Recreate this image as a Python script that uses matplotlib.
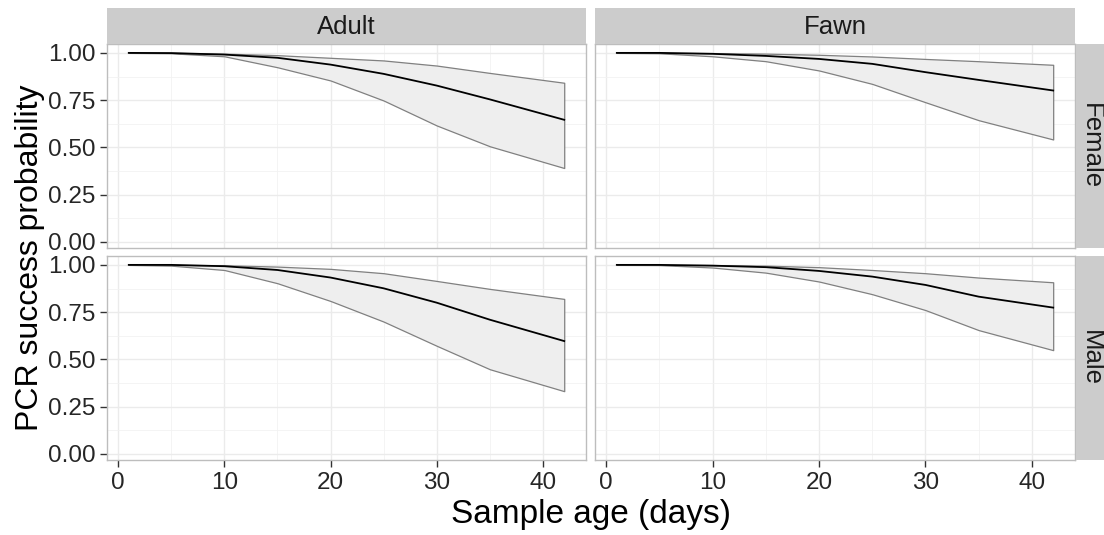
import matplotlib
matplotlib.use("Agg")
import matplotlib.pyplot as plt
from matplotlib.ticker import MultipleLocator

plt.rcParams["font.family"] = ["Liberation Sans", "DejaVu Sans"]

# sample age in days, and fitted PCR success (mean with lower/upper bounds)
days = [1, 5, 10, 15, 20, 25, 30, 35, 42]
age_classes = ["Adult", "Fawn"]
sexes = ["Female", "Male"]

adult_female_mean = [1.0, 0.999, 0.991, 0.974, 0.938, 0.889, 0.827, 0.754, 0.646]
adult_female_lo = [1.0, 0.998, 0.982, 0.924, 0.854, 0.748, 0.616, 0.506, 0.391]
adult_female_hi = [1.0, 1.0, 0.996, 0.988, 0.974, 0.960, 0.933, 0.894, 0.842]

adult_male_mean = [1.0, 1.0, 0.993, 0.973, 0.933, 0.876, 0.800, 0.710, 0.597]
adult_male_lo = [1.0, 0.996, 0.973, 0.903, 0.809, 0.700, 0.572, 0.448, 0.332]
adult_male_hi = [1.0, 1.0, 0.998, 0.991, 0.979, 0.956, 0.915, 0.873, 0.820]

fawn_female_mean = [1.0, 1.0, 0.995, 0.984, 0.968, 0.942, 0.898, 0.857, 0.801]
fawn_female_lo = [1.0, 0.998, 0.982, 0.956, 0.907, 0.836, 0.739, 0.644, 0.542]
fawn_female_hi = [1.0, 1.0, 0.999, 0.996, 0.990, 0.981, 0.968, 0.956, 0.937]

fawn_male_mean = [1.0, 1.0, 0.996, 0.988, 0.968, 0.938, 0.894, 0.832, 0.774]
fawn_male_lo = [1.0, 0.999, 0.986, 0.959, 0.912, 0.845, 0.761, 0.655, 0.549]
fawn_male_hi = [1.0, 1.0, 0.999, 0.996, 0.988, 0.973, 0.956, 0.933, 0.908]

curves = {
    ("Adult", "Female"): (adult_female_mean, adult_female_lo, adult_female_hi),
    ("Adult", "Male"): (adult_male_mean, adult_male_lo, adult_male_hi),
    ("Fawn", "Female"): (fawn_female_mean, fawn_female_lo, fawn_female_hi),
    ("Fawn", "Male"): (fawn_male_mean, fawn_male_lo, fawn_male_hi),
}

W, H = 1104, 535
fig = plt.figure(figsize=(W / 100, H / 100), dpi=100)
fig.patch.set_facecolor("white")


def box(x0, y0, x1, y1):
    # pixel box (top-left origin) -> figure fraction rect
    return [x0 / W, 1 - y1 / H, (x1 - x0) / W, (y1 - y0) / H]


col_x = [(107, 586), (595, 1075)]
row_y = [(44, 248), (256, 460)]
strip_fill = "#CCCCCC"
border = "#BDBDBD"
text_col = "#262626"

for ci, age in enumerate(age_classes):
    for ri, sex in enumerate(sexes):
        x0, x1 = col_x[ci]
        y0, y1 = row_y[ri]
        ax = fig.add_axes(box(x0, y0, x1, y1))
        mean, lo, hi = curves[(age, sex)]

        ax.fill_between(days, lo, hi, facecolor="#EEEEEE", edgecolor="#808080",
                        linewidth=0.9, zorder=2)
        ax.plot(days, mean, color="black", linewidth=1.3, zorder=3)

        ax.set_xlim(-1.05, 44.05)
        ax.set_ylim(-0.032, 1.047)
        ax.xaxis.set_major_locator(MultipleLocator(10))
        ax.xaxis.set_minor_locator(MultipleLocator(5))
        ax.yaxis.set_major_locator(MultipleLocator(0.25))
        ax.yaxis.set_minor_locator(MultipleLocator(0.125))
        ax.grid(which="major", color="#EBEBEB", linewidth=1.0)
        ax.grid(which="minor", color="#F2F2F2", linewidth=0.6)
        ax.set_axisbelow(True)
        for s in ax.spines.values():
            s.set_color(border)
            s.set_linewidth(1.0)

        ax.tick_params(which="minor", length=0)
        ax.tick_params(which="major", direction="out", length=5, width=1,
                       color="#333333", labelcolor=text_col, labelsize=17.5, pad=3.5)
        if ci == 0:
            ax.yaxis.set_major_formatter(lambda v, p: f"{v:.2f}")
        else:
            ax.tick_params(axis="y", which="major", length=0, labelleft=False)
        if ri == 0:
            ax.tick_params(axis="x", which="major", length=0, labelbottom=False)

        # facet strips
        if ri == 0:
            st = fig.add_axes(box(x0, 8, x1, 44))
            st.set_facecolor(strip_fill)
            st.set_xticks([])
            st.set_yticks([])
            for s in st.spines.values():
                s.set_visible(False)
            st.text(0.5, 0.47, age, ha="center", va="center", fontsize=18.5,
                    color="#1A1A1A", transform=st.transAxes)
        if ci == 1:
            st = fig.add_axes(box(1076, y0, 1110, y1))
            st.set_facecolor(strip_fill)
            st.set_xticks([])
            st.set_yticks([])
            for s in st.spines.values():
                s.set_visible(False)
            st.text(0.45, 0.5, sex, ha="center", va="center", fontsize=18.5,
                    rotation=-90, color="#1A1A1A", transform=st.transAxes)

fig.text(591 / W, 1 - 515 / H, "Sample age (days)", ha="center", va="center",
         fontsize=24)
fig.text(30 / W, 1 - 258 / H, "PCR success probability", ha="center",
         va="center", rotation=90, fontsize=23)

fig.savefig("out.png", dpi=100)
